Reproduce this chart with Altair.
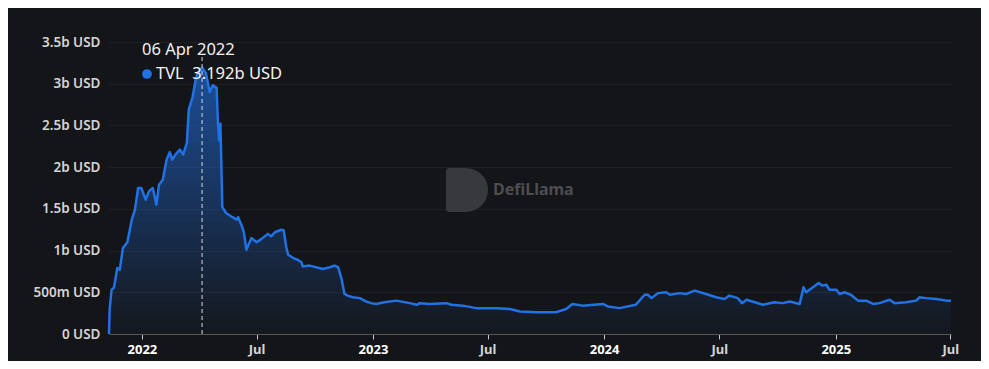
import altair as alt
import pandas as pd

# ---- data ----
dates = [
    "2021-11-10", "2021-11-11", "2021-11-14", "2021-11-18", "2021-11-23", "2021-11-27",
    "2021-12-02", "2021-12-09", "2021-12-16", "2021-12-21", "2021-12-26", "2021-12-31",
    "2022-01-07", "2022-01-12", "2022-01-18", "2022-01-24", "2022-01-28", "2022-02-03",
    "2022-02-09", "2022-02-14", "2022-02-18", "2022-02-23", "2022-03-02", "2022-03-07",
    "2022-03-13", "2022-03-16", "2022-03-22", "2022-03-27", "2022-03-30", "2022-04-06",
    "2022-04-12", "2022-04-18", "2022-04-23", "2022-04-29", "2022-05-01", "2022-05-03",
    "2022-05-05", "2022-05-08", "2022-05-14", "2022-05-24", "2022-05-31", "2022-06-02",
    "2022-06-07", "2022-06-11", "2022-06-15", "2022-06-23", "2022-07-01", "2022-07-09",
    "2022-07-19", "2022-07-24", "2022-07-30", "2022-08-09", "2022-08-13", "2022-08-17",
    "2022-08-20", "2022-08-28", "2022-09-04", "2022-09-10", "2022-09-12", "2022-09-23",
    "2022-10-03", "2022-10-14", "2022-10-25", "2022-11-01", "2022-11-07", "2022-11-12",
    "2022-11-17", "2022-11-22", "2022-11-30", "2022-12-11", "2022-12-21", "2022-12-29",
    "2023-01-06", "2023-01-19", "2023-02-07", "2023-02-28", "2023-03-11", "2023-03-16",
    "2023-03-31", "2023-04-27", "2023-05-05", "2023-05-23", "2023-06-13", "2023-07-15",
    "2023-08-05", "2023-08-21", "2023-09-16", "2023-10-17", "2023-11-02", "2023-11-12",
    "2023-11-28", "2023-12-30", "2024-01-07", "2024-01-25", "2024-02-20", "2024-03-05",
    "2024-03-10", "2024-03-16", "2024-03-26", "2024-04-08", "2024-04-14", "2024-04-29",
    "2024-05-10", "2024-05-23", "2024-06-10", "2024-06-26", "2024-07-09", "2024-07-17",
    "2024-07-30", "2024-08-06", "2024-08-13", "2024-08-26", "2024-09-08", "2024-09-26",
    "2024-10-09", "2024-10-20", "2024-11-05", "2024-11-11", "2024-11-15", "2024-11-26",
    "2024-12-05", "2024-12-11", "2024-12-17", "2024-12-22", "2025-01-02", "2025-01-07",
    "2025-01-15", "2025-01-25", "2025-02-05", "2025-02-18", "2025-03-01", "2025-03-11",
    "2025-03-27", "2025-04-04", "2025-04-22", "2025-05-08", "2025-05-13", "2025-05-24",
    "2025-06-09", "2025-06-25", "2025-07-02",
]
tvl_b = [
    0.00, 0.29, 0.53, 0.56, 0.79, 0.77,
    1.03, 1.10, 1.37, 1.49, 1.75, 1.75,
    1.61, 1.71, 1.75, 1.55, 1.79, 1.85,
    2.09, 2.18, 2.09, 2.15, 2.21, 2.15,
    2.29, 2.69, 2.84, 3.05, 3.13, 3.192,
    3.13, 2.90, 2.98, 2.95, 2.55, 2.32,
    2.52, 1.52, 1.45, 1.40, 1.37, 1.40,
    1.31, 1.22, 1.01, 1.15, 1.10, 1.14,
    1.20, 1.17, 1.22, 1.25, 1.24, 1.04,
    0.95, 0.91, 0.89, 0.86, 0.81, 0.82,
    0.80, 0.78, 0.80, 0.82, 0.80, 0.67,
    0.48, 0.46, 0.44, 0.43, 0.39, 0.37,
    0.36, 0.38, 0.40, 0.37, 0.35, 0.37,
    0.36, 0.37, 0.35, 0.34, 0.31, 0.31,
    0.30, 0.27, 0.26, 0.26, 0.30, 0.36,
    0.34, 0.36, 0.33, 0.31, 0.35, 0.47,
    0.47, 0.43, 0.49, 0.50, 0.47, 0.49,
    0.48, 0.52, 0.48, 0.44, 0.42, 0.46,
    0.43, 0.37, 0.41, 0.38, 0.35, 0.38,
    0.37, 0.39, 0.36, 0.56, 0.50, 0.56,
    0.61, 0.58, 0.59, 0.53, 0.53, 0.48,
    0.50, 0.47, 0.40, 0.40, 0.36, 0.37,
    0.41, 0.37, 0.38, 0.40, 0.44, 0.43,
    0.42, 0.40, 0.40,
]
y_ticks = [0, 0.5, 1, 1.5, 2, 2.5, 3, 3.5]
x_ticks = ["2022-01-01", "2022-07-01", "2023-01-01", "2023-07-01",
           "2024-01-01", "2024-07-01", "2025-01-01", "2025-07-01"]
x_domain = ["2021-11-10", "2025-07-02"]
hover_date = ["2022-04-06"]
hover_label = ["06 Apr 2022"]
hover_series = ["TVL\u00a0\u00a03.192b USD"]
watermark = ["DefiLlama"]

df = pd.DataFrame({"date": pd.to_datetime(dates), "tvl": tvl_b})

W, H = 842, 292
BLUE = "#2172E5"
BG = "#141518"
FONT = "Noto Sans"


def dt(d):
    return alt.DateTime(year=int(d[:4]), month=int(d[5:7]), date=int(d[8:]))


x_enc = alt.X(
    "date:T",
    scale=alt.Scale(domain=[dt(d) for d in x_domain]),
    axis=alt.Axis(
        values=[dt(d) for d in x_ticks],
        labelExpr="month(datum.value) == 0 ? timeFormat(datum.value, '%Y') : timeFormat(datum.value, '%b')",
        labelColor=alt.ExprRef(expr="month(datum.value) == 0 ? '#ffffff' : '#d4d4d4'"),
        labelFontWeight="bold",
        labelFontSize=13,
        labelFont=FONT,
        labelPadding=4,
        tickSize=5,
        tickColor="#c8c8c8",
        domainColor="#55565a",
        grid=False,
        title=None,
        labelFlush=False,
    ),
    title=None,
)
y_enc = alt.Y(
    "tvl:Q",
    scale=alt.Scale(domain=[0, 3.5], nice=False),
    axis=alt.Axis(
        values=y_ticks,
        labelExpr="datum.value == 0 ? '0 USD' : (datum.value < 1 ? format(datum.value*1000, 'd') + 'm USD' : datum.value + 'b USD')",
        labelColor="#d4d4d4",
        labelFontWeight=600,
        labelFontSize=13.5,
        labelFont=FONT,
        labelPadding=9,
        ticks=False,
        domain=False,
        gridColor="#1f2024",
        gridWidth=1,
        title=None,
    ),
    title=None,
)

base = alt.Chart(df)

area = base.mark_area(
    color=alt.Gradient(
        gradient="linear",
        x1=0, y1=0, x2=0, y2=1,
        stops=[
            alt.GradientStop(color="rgba(33,114,229,0.62)", offset=0),
            alt.GradientStop(color="rgba(33,114,229,0.03)", offset=1),
        ],
    ),
    interpolate="linear",
).encode(x=x_enc, y=y_enc)

line = base.mark_line(color=BLUE, strokeWidth=2.5, interpolate="linear", strokeJoin="round").encode(
    x="date:T", y="tvl:Q")

# watermark
wm_rect = alt.Chart(pd.DataFrame({"a": [0]})).mark_rect(
    color="#38393c", cornerRadiusTopLeft=3, cornerRadiusBottomLeft=3
).encode(x=alt.value(337), x2=alt.value(358), y=alt.value(126), y2=alt.value(170))
wm_arc = alt.Chart(pd.DataFrame({"a": [0]})).mark_arc(
    color="#38393c", theta=0, theta2=3.14159, outerRadius=22
).encode(x=alt.value(357), y=alt.value(148))
wm_text = alt.Chart(pd.DataFrame({"t": watermark})).mark_text(
    align="left", baseline="middle", font=FONT, fontSize=16, fontWeight="bold", color="#4c4d51"
).encode(x=alt.value(384), y=alt.value(148), text="t:N")

# hover indicator
rule = alt.Chart(pd.DataFrame({"date": pd.to_datetime(hover_date)})).mark_rule(
    color="#d8d8d8", strokeDash=[4, 3], strokeWidth=1
).encode(x="date:T", y=alt.value(15), y2=alt.value(H))

tip_date = alt.Chart(pd.DataFrame({"t": hover_label})).mark_text(
    align="left", baseline="middle", font=FONT, fontSize=16.5, color="#f2f2f2"
).encode(x=alt.value(33), y=alt.value(8), text="t:N")
tip_dot = alt.Chart(pd.DataFrame({"a": [0]})).mark_circle(color=BLUE, size=95, opacity=1).encode(
    x=alt.value(38), y=alt.value(32))
tip_val = alt.Chart(pd.DataFrame({"t": hover_series})).mark_text(
    align="left", baseline="middle", font=FONT, fontSize=16.5, color="#f2f2f2"
).encode(x=alt.value(47), y=alt.value(32), text="t:N")

chart = alt.layer(
    wm_rect, wm_arc, wm_text, area, line, rule, tip_date, tip_dot, tip_val
).properties(
    width=W, height=H,
    background=BG,
    autosize=alt.AutoSizeParams(type="none"),
    padding={"left": 101, "top": 34, "right": 30, "bottom": 27},
).configure_view(stroke=None)

chart.save("out.html", embed_options={"renderer": "svg", "actions": False})
